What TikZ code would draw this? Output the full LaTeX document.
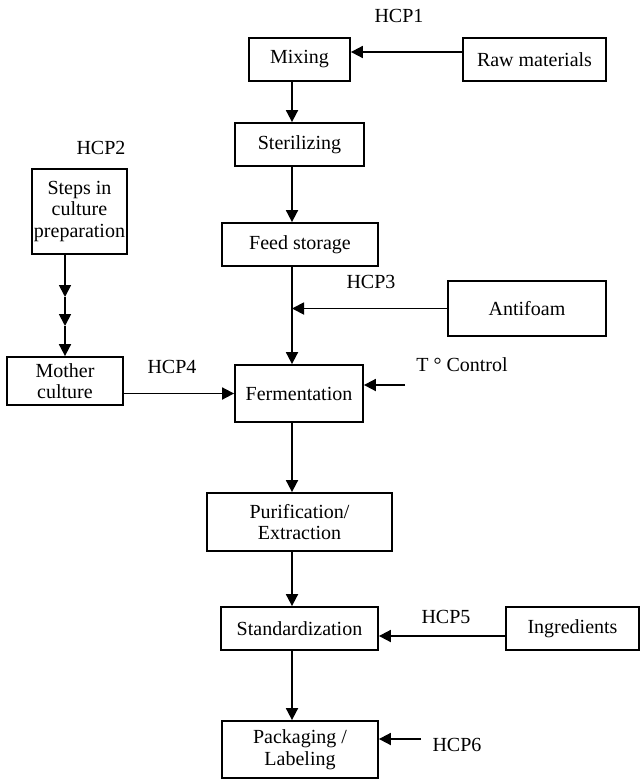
\documentclass[tikz,border=0pt]{standalone}
\usepackage{fontspec}
\setmainfont{Liberation Serif}
\usetikzlibrary{arrows.meta, calc, positioning}
\tikzset{
	box/.style={draw, line width=1.8pt, align=center, inner sep=2pt},
	flow/.style={draw, line width=1.8pt, -{Triangle[length=12pt, width=12pt]}},
}

\begin{document}
\begin{tikzpicture}[x=1pt, y=-1pt]
	\fontsize{20}{21.5}\selectfont
	\useasboundingbox (0,0) rectangle (641,779);
	% boxes of the main line
	\node[box, minimum width=101pt, minimum height=43pt] (mixing) at (299.5,59.5) {Mixing};
	\node[box, minimum width=143pt, minimum height=43pt] (raw) at (534.5,59.5) {Raw materials};
	\node[box, minimum width=129pt, minimum height=43pt] (steril) at (299.5,144.5) {Sterilizing};
	\node[box, minimum width=156pt, minimum height=43pt] (feed) at (300,244.5) {Feed storage};
	\node[box, minimum width=158pt, minimum height=55pt] (antifoam) at (527,308.5) {Antifoam};
	\node[box, minimum width=128pt, minimum height=57pt] (ferm) at (299,393.5) {Fermentation};
	\node[box, minimum width=185pt, minimum height=58pt] (purif) at (299.5,522) {Purification/\\Extraction};
	\node[box, minimum width=157pt, minimum height=43pt] (stand) at (299.5,628.5) {Standardization};
	\node[box, minimum width=133pt, minimum height=43pt] (ingr) at (572.5,628.5) {Ingredients};
	\node[box, minimum width=156pt, minimum height=57pt] (pack) at (300,749.5) {Packaging /\\Labeling};
	% culture branch
	\node[box, minimum width=87pt, minimum height=85pt] (steps) at (79.5,211.5) {Steps in\\culture\\preparation};
	\node[box, minimum width=116pt, minimum height=48pt] (mother) at (65,381) {Mother\\culture};
	% labels
	\node (hcp1) at (399,16) {HCP1};
	\node (hcp2) at (101,148) {HCP2};
	\node (hcp3) at (371,282) {HCP3};
	\node (hcp4) at (172,367) {HCP4};
	\node (tctl) at (462,365) {T ° Control};
	\node (hcp5) at (446,617) {HCP5};
	\node (hcp6) at (457,745) {HCP6};

	\coordinate (axis) at (292,0);
	\coordinate (s1) at (65,297);
	\coordinate (s2) at (65,326);
	\coordinate (tin) at (405,385);
	\coordinate (hin) at (421,739);

	\draw[flow] ($(raw.west)+(0,-7.5)$) -- ($(mixing.east)+(0,-7.5)$);
	\draw[flow] (mixing.south -| axis) -- (steril.north -| axis);
	\draw[flow] (steril.south -| axis) -- (feed.north -| axis);
	\draw[flow] (feed.south -| axis) -- (ferm.north -| axis);
	\draw[flow] (antifoam.west) -- (axis |- antifoam.west);
	\draw[flow] (steps.south -| mother.north) -- (s1);
	\draw[flow] (s1) -- (s2);
	\draw[flow] (s2) -- (mother.north);
	\draw[flow] (mother.east |- ferm.west) -- (ferm.west);
	\draw[flow] (tin) -- (tin -| ferm.east);
	\draw[flow] (ferm.south -| axis) -- (purif.north -| axis);
	\draw[flow] (purif.south -| axis) -- (stand.north -| axis);
	\draw[flow] ($(ingr.west)+(0,7.5)$) -- ($(stand.east)+(0,7.5)$);
	\draw[flow] (stand.south -| axis) -- (pack.north -| axis);
	\draw[flow] (hin) -- (hin -| pack.east);
\end{tikzpicture}
\end{document}
